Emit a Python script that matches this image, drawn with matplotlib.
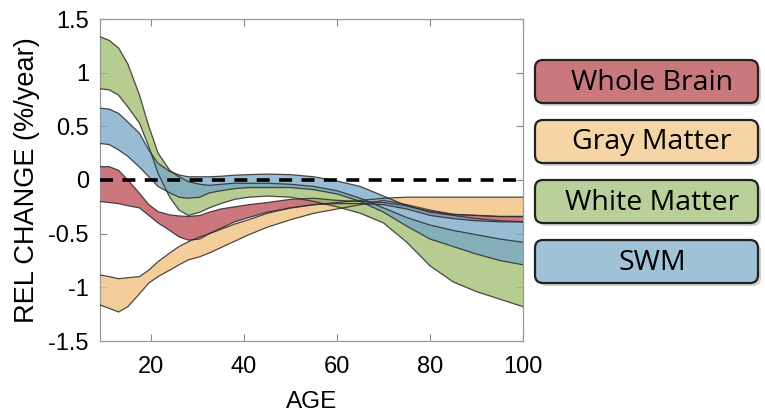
import matplotlib
matplotlib.use("Agg")
import matplotlib.pyplot as plt
from matplotlib.patches import FancyBboxPatch

plt.rcParams['axes.unicode_minus'] = False

# ---------------- data ----------------
age = [9, 11, 13, 15, 17.5, 19.5, 21.5, 24, 26, 28, 30.5, 32.5, 35, 38, 41, 45,
       50, 55, 60, 65, 70, 75, 80, 85, 90, 95, 100]

wb_hi = [0.124, 0.124, 0.09, 0.0, -0.124, -0.23, -0.295, -0.325, -0.335, -0.34, -0.33, -0.30,
         -0.27, -0.25, -0.23, -0.21, -0.18, -0.17, -0.19, -0.20, -0.21, -0.24, -0.29,
         -0.32, -0.33, -0.34, -0.34]
wb_lo = [-0.20, -0.21, -0.22, -0.24, -0.26, -0.33, -0.40, -0.47, -0.53, -0.56, -0.55, -0.50,
         -0.45, -0.39, -0.35, -0.30, -0.26, -0.23, -0.22, -0.22, -0.23, -0.27, -0.33,
         -0.36, -0.38, -0.39, -0.39]

gm_hi = [-0.885, -0.90, -0.92, -0.91, -0.90, -0.84, -0.76, -0.68, -0.62, -0.575, -0.53, -0.50,
         -0.46, -0.41, -0.37, -0.31, -0.26, -0.23, -0.21, -0.19, -0.17, -0.16, -0.16,
         -0.16, -0.16, -0.16, -0.16]
gm_lo = [-1.165, -1.196, -1.23, -1.18, -1.06, -0.96, -0.90, -0.84, -0.79, -0.745, -0.715, -0.68,
         -0.63, -0.57, -0.51, -0.44, -0.37, -0.31, -0.27, -0.23, -0.19, -0.23, -0.28,
         -0.32, -0.33, -0.34, -0.34]

wm_hi = [1.335, 1.30, 1.23, 1.08, 0.79, 0.50, 0.25, 0.09, 0.03, -0.015, -0.04, -0.05,
         -0.04, -0.03, -0.03, -0.03, -0.04, -0.06, -0.10, -0.17, -0.26, -0.35, -0.42,
         -0.47, -0.51, -0.55, -0.58]
wm_lo = [0.85, 0.84, 0.79, 0.68, 0.53, 0.31, 0.06, -0.16, -0.28, -0.33, -0.30, -0.26,
         -0.22, -0.18, -0.16, -0.15, -0.16, -0.20, -0.25, -0.31, -0.40, -0.58, -0.80,
         -0.95, -1.04, -1.11, -1.18]

swm_hi = [0.67, 0.66, 0.62, 0.54, 0.435, 0.28, 0.155, 0.08, 0.047, 0.03, 0.03, 0.03,
          0.035, 0.045, 0.05, 0.055, 0.05, 0.03, -0.01, -0.06, -0.15, -0.24, -0.30,
          -0.33, -0.36, -0.38, -0.39]
swm_lo = [0.34, 0.33, 0.28, 0.22, 0.12, 0.03, -0.06, -0.12, -0.16, -0.17, -0.16, -0.12,
          -0.10, -0.08, -0.07, -0.07, -0.07, -0.09, -0.13, -0.20, -0.30, -0.43, -0.55,
          -0.62, -0.69, -0.75, -0.79]

labels = ["Whole Brain", "Gray Matter", "White Matter", "SWM"]
band_colors = ["#BB4852", "#F0BE7A", "#9EBC6C", "#74A6C6"]
box_colors = ["#C9787D", "#F7D4A6", "#B9D09A", "#9FC2D6"]

xticks = [20, 40, 60, 80, 100]
yticks = [-1.5, -1, -0.5, 0, 0.5, 1, 1.5]
yticklabels = ["-1.5", "-1", "-0.5", "0", "0.5", "1", "1.5"]

# ---------------- figure ----------------
W, H = 765, 416
fig = plt.figure(figsize=(W / 100, H / 100), dpi=100)
ax = fig.add_axes([100 / W, 1 - 341 / H, 423 / W, 322 / H])

bands = [(wb_lo, wb_hi), (gm_lo, gm_hi), (wm_lo, wm_hi), (swm_lo, swm_hi)]
for (lo, hi), c in zip(bands, band_colors):
    ax.fill_between(age, lo, hi, facecolor=c, alpha=0.75, linewidth=0, zorder=2)
    ax.plot(age, lo, color="#2b2b2b", lw=0.9, alpha=0.85, zorder=3)
    ax.plot(age, hi, color="#2b2b2b", lw=0.9, alpha=0.85, zorder=3)

ax.axhline(0, color="black", lw=2.6, linestyle=(0, (3.6, 2.6)), zorder=4)

ax.set_xlim(9, 100)
ax.set_ylim(-1.5, 1.5)
ax.set_xticks(xticks)
ax.set_xticklabels([str(t) for t in xticks])
ax.set_yticks(yticks)
ax.set_yticklabels(yticklabels)

fam = ["Liberation Sans", "DejaVu Sans"]
for lab in ax.get_xticklabels() + ax.get_yticklabels():
    lab.set_fontfamily(fam)
    lab.set_fontsize(17)

ax.tick_params(direction="in", length=5, width=0.8, color="#888888",
               top=True, right=True, pad=8)
ax.tick_params(axis="x", pad=11)
for s in ax.spines.values():
    s.set_color("#999999")
    s.set_linewidth(0.9)

ax.set_xlabel("AGE", fontsize=17.5, family=fam, labelpad=9)
ax.set_ylabel("REL CHANGE (%/year)", fontsize=19.5, family=fam, labelpad=6)

# ---------------- legend boxes ----------------
lax = fig.add_axes([0, 0, 1, 1])
lax.set_xlim(0, W)
lax.set_ylim(H, 0)
lax.axis("off")
lax.patch.set_alpha(0)

box_x0, box_x1 = 535, 758
box_h = 43
for i, (lab, c) in enumerate(zip(labels, box_colors)):
    y0 = 60 + 60 * i
    shadow = FancyBboxPatch((box_x0 + 3, y0 + 3), box_x1 - box_x0, box_h,
                            boxstyle="round,pad=0,rounding_size=8",
                            facecolor="#9a9a9a", edgecolor="none", alpha=0.45, zorder=1)
    lax.add_patch(shadow)
    box = FancyBboxPatch((box_x0, y0), box_x1 - box_x0, box_h,
                         boxstyle="round,pad=0,rounding_size=8",
                         facecolor=c, edgecolor="#222222", linewidth=1.6, zorder=2)
    lax.add_patch(box)
    lax.text(652, y0 + box_h / 2 + 1, lab, ha="center", va="center", fontsize=20.5,
             family=["Open Sans", "DejaVu Sans"], color="black", zorder=3)

fig.savefig("out.png", dpi=100)
